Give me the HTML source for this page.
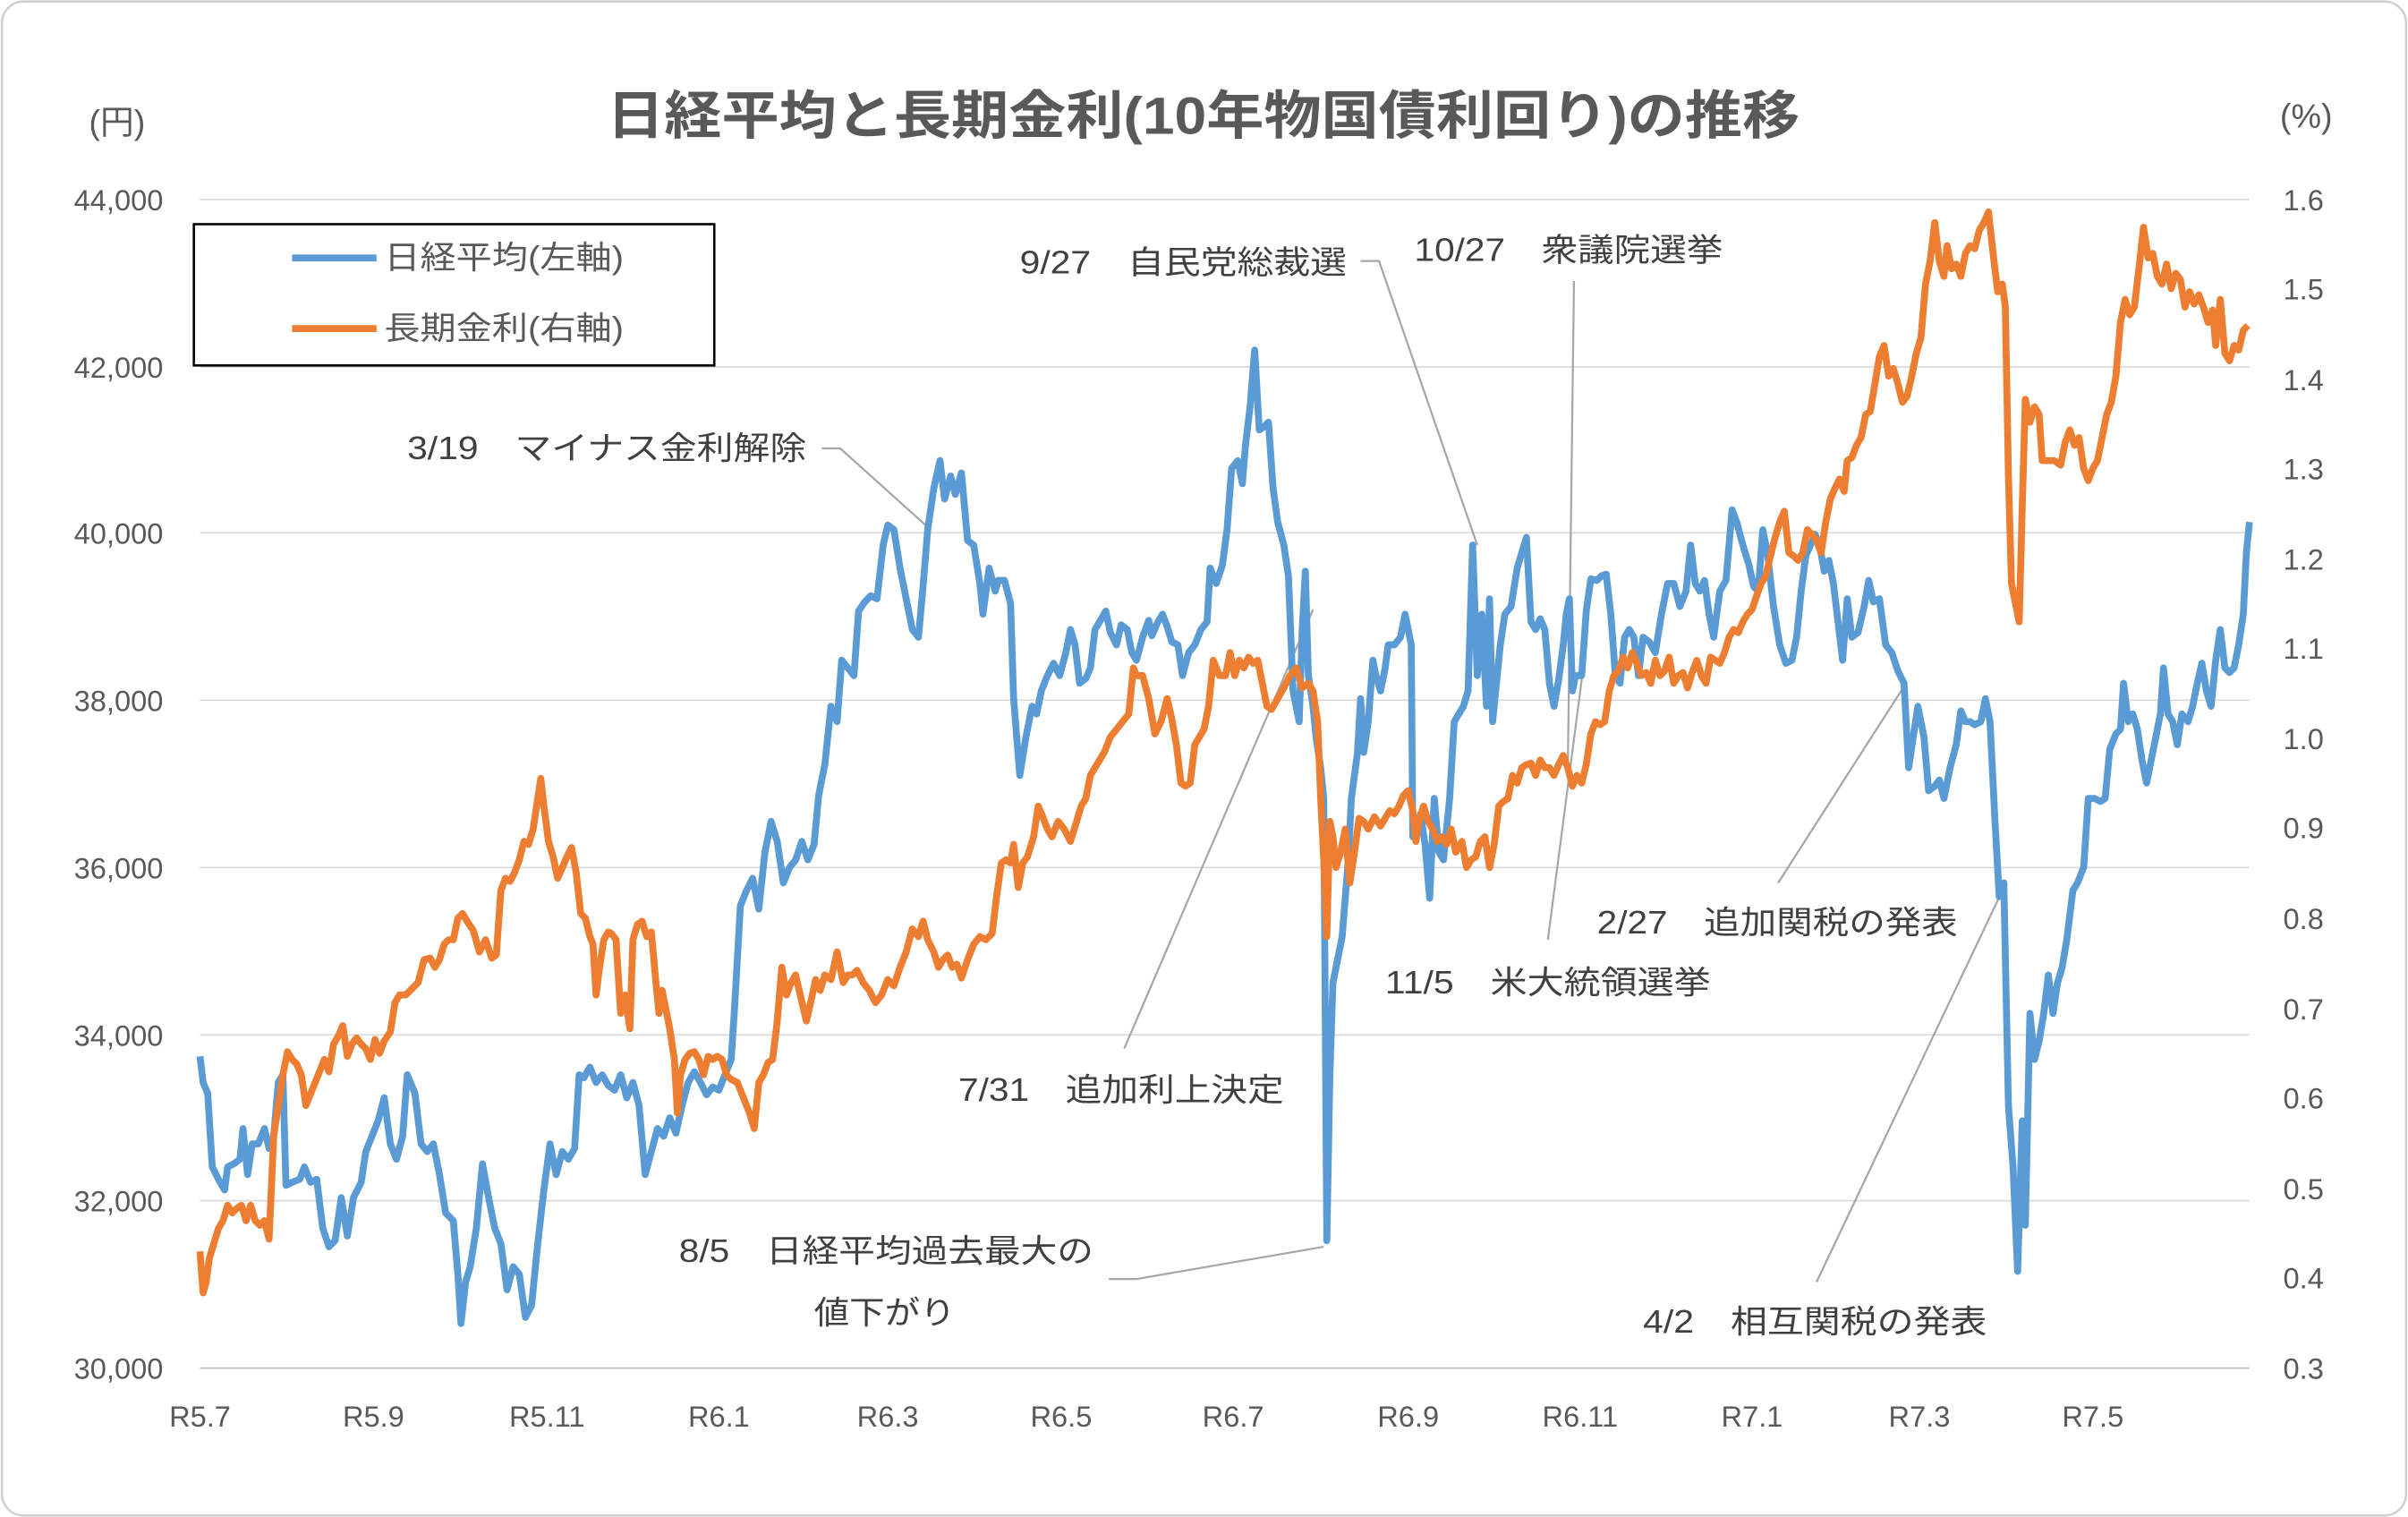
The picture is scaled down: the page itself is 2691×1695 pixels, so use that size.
<!DOCTYPE html>
<html><head><meta charset="utf-8">
<style>
html,body{margin:0;padding:0;background:#fff;}
svg{display:block;}
text{font-family:"Liberation Sans","Noto Sans CJK JP",sans-serif;}
</style></head>
<body>
<svg width="2691" height="1695" viewBox="0 0 1568 988" xmlns="http://www.w3.org/2000/svg">
<rect x="1" y="1" width="1566" height="986" rx="14" fill="#fff" stroke="#d0d0d0" stroke-width="1.5"/>
<g stroke="#d9d9d9" stroke-width="1">
<line x1="130" y1="130" x2="1465" y2="130"/>
<line x1="130" y1="239" x2="1465" y2="239"/>
<line x1="130" y1="347" x2="1465" y2="347"/>
<line x1="130" y1="456" x2="1465" y2="456"/>
<line x1="130" y1="565" x2="1465" y2="565"/>
<line x1="130" y1="674" x2="1465" y2="674"/>
<line x1="130" y1="782" x2="1465" y2="782"/>
</g>
<line x1="130" y1="891" x2="1465" y2="891" stroke="#bfbfbf" stroke-width="1"/>
<text x="395" y="87" font-size="34" font-weight="bold" fill="#595959" textLength="777" lengthAdjust="spacingAndGlyphs">日経平均と長期金利(10年物国債利回り)の推移</text>
<text x="76" y="87" text-anchor="middle" font-size="22" fill="#595959">(円)</text>
<text x="1502" y="83" text-anchor="middle" font-size="22" fill="#595959">(%)</text>
<g font-size="19" fill="#595959" text-anchor="end">
<text x="106" y="137">44,000</text><text x="106" y="246">42,000</text><text x="106" y="354">40,000</text>
<text x="106" y="463">38,000</text><text x="106" y="572">36,000</text><text x="106" y="681">34,000</text>
<text x="106" y="789">32,000</text><text x="106" y="898">30,000</text>
</g>
<g font-size="19" fill="#595959" text-anchor="start">
<text x="1487" y="137">1.6</text><text x="1487" y="195">1.5</text><text x="1487" y="254">1.4</text>
<text x="1487" y="312">1.3</text><text x="1487" y="371">1.2</text><text x="1487" y="429">1.1</text>
<text x="1487" y="488">1.0</text><text x="1487" y="546">0.9</text><text x="1487" y="605">0.8</text>
<text x="1487" y="664">0.7</text><text x="1487" y="722">0.6</text><text x="1487" y="781">0.5</text>
<text x="1487" y="839">0.4</text><text x="1487" y="898">0.3</text>
</g>
<g font-size="19" fill="#595959" text-anchor="middle">
<text x="130" y="929">R5.7</text><text x="243" y="929">R5.9</text><text x="356" y="929">R5.11</text>
<text x="468" y="929">R6.1</text><text x="578" y="929">R6.3</text><text x="691" y="929">R6.5</text>
<text x="803" y="929">R6.7</text><text x="917" y="929">R6.9</text><text x="1029" y="929">R6.11</text>
<text x="1141" y="929">R7.1</text><text x="1250" y="929">R7.3</text><text x="1363" y="929">R7.5</text>
</g>
<g stroke="#a6a6a6" stroke-width="1.3" fill="none">
<polyline points="535,292 547,292 606,345"/>
<polyline points="886,170 898,170 962,355"/>
<polyline points="1025,183 1021,500"/>
<polyline points="1008,612 1033,420"/>
<polyline points="732,683 855,397"/>
<polyline points="722,833 740,833 862,812"/>
<polyline points="1158,575 1240,447"/>
<polyline points="1183,835 1305,578"/>
</g>
<polyline fill="none" stroke="#5b9bd5" stroke-width="4.5" stroke-linejoin="round" points="130,688 132,705 135,712 138,760 142,768 146,775 148,760 152,758 156,755 158,735 161,765 164,745 168,745 172,735 175,748 178,740 181,705 184,700 186,772 190,770 195,768 198,760 202,770 206,768 210,800 214,812 218,808 222,780 226,805 230,780 235,770 238,750 242,740 246,730 250,715 254,745 258,755 262,740 265,700 270,712 274,745 278,750 282,745 286,765 290,790 295,795 298,830 300,862 303,835 306,825 310,800 314,758 318,780 322,800 326,810 330,840 334,825 338,830 342,858 346,850 350,810 354,775 358,745 362,765 366,750 370,755 374,748 377,700 380,702 384,695 388,705 392,700 396,707 400,710 404,700 408,715 412,705 416,720 420,765 424,750 428,735 432,740 436,728 440,738 444,720 448,705 452,698 456,705 460,713 464,708 468,710 472,700 476,690 478,660 482,590 486,580 490,572 494,592 498,555 502,535 506,548 510,575 514,565 518,560 522,548 526,560 530,550 533,518 537,498 541,460 545,470 548,430 552,435 556,440 559,398 563,392 567,388 571,390 575,355 578,342 582,345 586,370 590,390 594,410 598,415 601,382 604,345 608,318 612,300 615,325 619,310 622,322 626,308 630,352 634,355 638,380 640,400 644,370 648,385 650,378 654,378 658,393 660,455 664,505 668,480 672,460 675,465 678,450 682,440 686,432 690,440 694,425 697,410 700,420 703,445 707,442 710,435 713,410 716,405 720,398 723,412 727,420 730,407 734,410 737,425 740,430 744,415 748,404 750,414 754,405 757,400 760,408 763,418 767,420 770,440 774,425 778,420 782,410 786,405 788,370 792,380 796,368 799,345 802,305 806,300 809,315 811,290 814,265 817,228 818,245 820,280 823,278 826,275 829,318 832,340 836,355 839,375 842,450 846,470 848,410 850,372 852,440 855,460 857,480 860,500 862,520 864,808 866,700 868,640 870,630 874,610 878,560 880,520 884,490 886,455 888,490 891,470 894,430 896,440 899,450 902,435 904,420 908,420 912,415 915,400 919,420 920,545 922,545 925,530 928,550 931,585 934,520 937,555 940,560 944,520 947,470 950,465 953,460 956,450 959,355 962,440 965,400 968,460 970,390 972,470 974,450 977,420 980,400 984,395 988,370 991,360 994,350 997,405 1000,410 1003,403 1006,410 1009,445 1012,460 1015,443 1018,420 1020,400 1022,390 1024,450 1026,440 1030,440 1033,398 1036,377 1040,378 1043,375 1046,374 1049,400 1052,440 1055,445 1058,415 1061,410 1064,415 1067,440 1070,415 1074,418 1078,425 1082,400 1086,380 1090,380 1094,395 1098,385 1101,355 1104,380 1107,385 1110,378 1113,400 1116,415 1120,385 1124,378 1128,332 1131,340 1135,355 1139,368 1142,382 1145,385 1148,345 1151,360 1155,395 1159,420 1163,432 1167,430 1170,415 1173,385 1176,362 1179,355 1182,348 1185,355 1188,372 1191,365 1194,380 1197,405 1200,430 1203,390 1206,415 1210,412 1214,395 1217,378 1220,392 1224,390 1228,420 1232,425 1236,437 1240,445 1243,500 1246,480 1249,460 1253,480 1256,515 1260,512 1263,508 1266,520 1270,500 1274,485 1277,463 1280,470 1283,470 1286,472 1290,470 1293,455 1296,470 1299,530 1302,584 1305,575 1308,720 1311,760 1314,828 1317,730 1319,798 1322,660 1325,690 1328,678 1331,660 1334,635 1337,660 1340,640 1343,630 1346,612 1350,580 1353,575 1357,565 1360,520 1364,520 1368,522 1371,520 1374,488 1378,478 1381,475 1383,445 1386,470 1389,465 1392,475 1395,495 1398,510 1401,495 1404,480 1407,465 1409,435 1412,465 1415,470 1418,485 1421,465 1425,470 1428,460 1431,445 1434,432 1437,450 1440,460 1443,430 1446,410 1449,435 1452,438 1455,435 1458,420 1461,400 1463,360 1465,340"/>
<polyline fill="none" stroke="#ed7d31" stroke-width="4.5" stroke-linejoin="round" points="130,815 132,842 134,835 136,820 139,810 142,800 145,795 148,785 151,790 154,787 157,785 160,795 163,785 166,795 169,798 172,795 175,807 178,740 181,720 184,700 187,685 190,690 193,693 196,700 199,720 203,710 207,700 211,690 214,698 217,680 220,675 223,668 226,688 229,680 232,676 235,680 238,683 241,690 244,677 247,686 250,678 254,672 257,653 260,648 264,648 268,644 272,640 276,625 280,624 283,630 286,625 289,615 292,612 295,612 298,598 301,595 304,600 308,606 312,620 316,612 320,624 323,622 326,580 329,572 332,574 335,568 338,560 341,548 344,550 347,540 350,520 352,507 354,525 357,548 360,558 363,572 366,565 369,558 372,552 375,568 378,595 381,598 384,610 386,615 388,648 390,632 393,612 396,607 398,608 401,612 404,660 407,648 410,670 412,612 415,602 418,600 421,610 424,607 427,640 429,660 431,645 434,660 436,670 439,690 441,725 443,700 446,690 449,686 452,685 455,690 458,700 461,688 464,690 467,688 470,690 473,700 476,703 480,705 484,715 488,725 491,735 494,705 497,700 500,692 503,690 506,665 509,630 512,648 515,640 518,635 521,648 525,665 528,652 531,638 534,645 537,635 541,638 545,620 549,640 552,635 555,635 558,632 562,640 566,645 570,653 574,648 578,638 582,642 586,630 590,620 594,605 598,610 601,600 604,612 608,620 611,630 614,625 617,622 620,630 623,628 626,637 630,625 634,615 638,610 642,612 646,608 649,583 652,562 655,560 658,562 660,550 663,578 666,562 669,558 673,545 676,525 679,532 682,540 685,545 689,535 693,540 697,548 701,535 704,525 707,520 710,505 713,500 716,495 719,490 723,480 727,475 731,470 735,465 738,435 740,440 744,440 748,455 752,478 756,470 760,455 763,468 766,485 769,510 772,512 775,510 778,485 781,480 784,475 787,460 790,430 794,440 798,440 801,425 804,440 807,430 810,435 813,428 816,432 819,430 822,445 825,460 828,462 832,455 836,448 840,440 844,435 848,448 852,445 855,450 858,470 860,520 862,560 864,610 866,535 868,545 870,565 873,555 876,540 879,575 882,555 885,533 888,535 891,540 895,532 899,538 902,533 905,528 908,530 911,525 914,518 917,515 920,528 922,548 924,535 927,525 930,535 933,540 936,548 939,545 942,550 945,540 948,555 952,548 955,565 958,560 961,558 964,548 967,545 970,565 973,550 976,525 979,522 982,520 985,505 988,510 991,500 994,498 997,497 1000,505 1003,495 1006,500 1009,500 1012,505 1015,498 1018,492 1021,500 1024,512 1027,505 1030,510 1033,498 1036,478 1039,470 1042,472 1045,470 1048,450 1051,440 1054,437 1057,428 1060,435 1063,425 1066,432 1069,440 1072,438 1075,445 1078,430 1081,440 1084,437 1087,428 1090,445 1093,440 1096,438 1099,448 1102,438 1105,430 1108,440 1111,445 1114,428 1117,430 1120,432 1123,425 1126,415 1129,410 1132,412 1135,405 1138,400 1141,397 1144,388 1147,380 1150,375 1153,362 1156,350 1159,340 1162,333 1165,360 1168,362 1171,365 1174,360 1177,345 1180,348 1183,352 1186,360 1189,340 1192,325 1195,318 1198,312 1201,320 1203,300 1206,298 1209,290 1212,285 1215,270 1218,268 1221,250 1224,232 1227,225 1230,245 1233,240 1236,250 1239,262 1242,258 1245,245 1248,230 1251,220 1254,185 1257,170 1260,145 1263,170 1266,180 1268,160 1271,175 1274,172 1277,180 1280,165 1283,160 1286,162 1289,150 1292,145 1295,138 1298,165 1301,190 1304,185 1306,200 1308,310 1310,380 1313,395 1315,405 1317,330 1319,260 1322,275 1325,265 1328,270 1330,300 1334,300 1338,300 1342,303 1345,288 1348,280 1351,290 1354,285 1357,305 1360,313 1363,305 1366,300 1369,285 1372,270 1375,262 1378,245 1381,210 1384,195 1387,205 1390,200 1393,175 1396,148 1399,168 1402,165 1405,180 1408,185 1411,172 1414,188 1417,178 1420,182 1423,200 1426,190 1429,198 1432,192 1435,200 1438,210 1441,202 1443,225 1446,195 1449,230 1452,235 1455,225 1458,228 1461,215 1464,212"/>
<rect x="126" y="146" width="339" height="92" fill="#fff" stroke="#000" stroke-width="1.5"/>
<line x1="190" y1="168" x2="245" y2="168" stroke="#5b9bd5" stroke-width="4.5"/>
<line x1="190" y1="214" x2="245" y2="214" stroke="#ed7d31" stroke-width="4.5"/>
<g font-size="21" fill="#595959">
<text x="250" y="175" textLength="156" lengthAdjust="spacingAndGlyphs">日経平均(左軸)</text>
<text x="250" y="221" textLength="156" lengthAdjust="spacingAndGlyphs">長期金利(右軸)</text>
</g>
<g font-size="21" fill="#404040">
<text x="265" y="299" textLength="260" lengthAdjust="spacingAndGlyphs">3/19　マイナス金利解除</text>
<text x="664" y="178" textLength="213" lengthAdjust="spacingAndGlyphs">9/27　自民党総裁選</text>
<text x="921" y="170" textLength="201" lengthAdjust="spacingAndGlyphs">10/27　衆議院選挙</text>
<text x="902" y="647" textLength="212" lengthAdjust="spacingAndGlyphs">11/5　米大統領選挙</text>
<text x="624" y="717" textLength="212" lengthAdjust="spacingAndGlyphs">7/31　追加利上決定</text>
<text x="442" y="822" textLength="270" lengthAdjust="spacingAndGlyphs">8/5　日経平均過去最大の</text>
<text x="530" y="862" textLength="92" lengthAdjust="spacingAndGlyphs">値下がり</text>
<text x="1040" y="608" textLength="235" lengthAdjust="spacingAndGlyphs">2/27　追加関税の発表</text>
<text x="1070" y="868" textLength="224" lengthAdjust="spacingAndGlyphs">4/2　相互関税の発表</text>
</g>
</svg>
</body></html>
